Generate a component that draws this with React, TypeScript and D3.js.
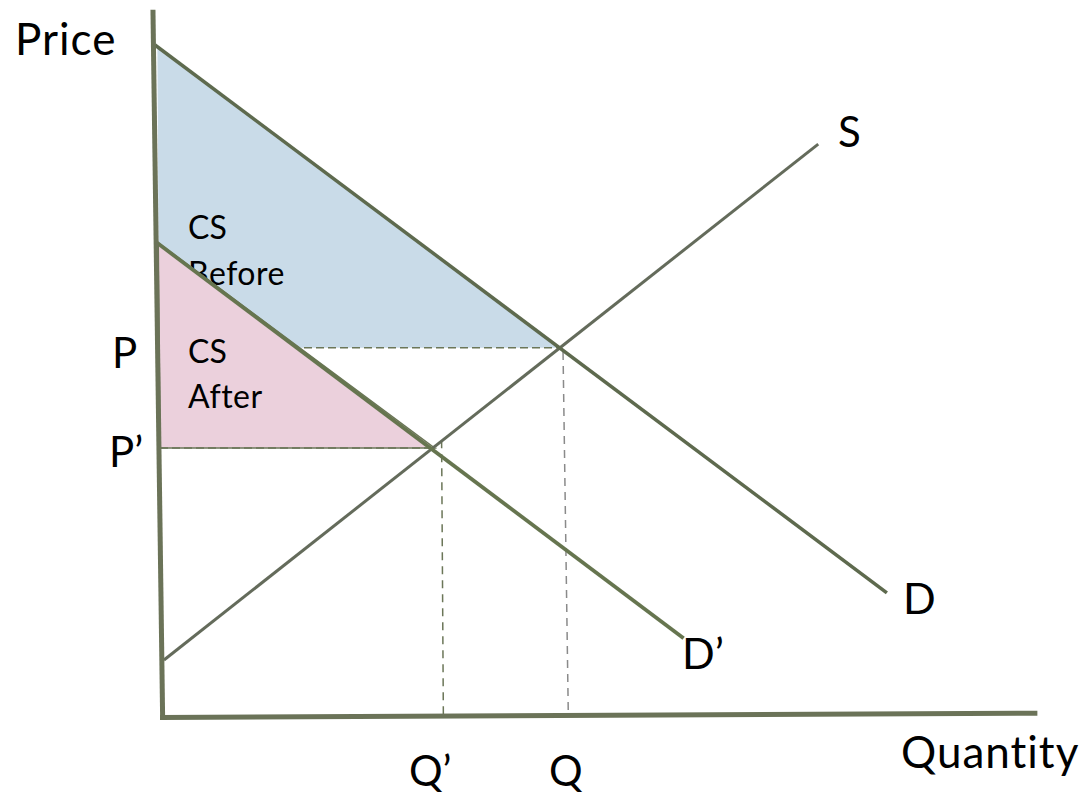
import React from "react";
import * as d3 from "d3";

// abstract units: quantity 0-100, price 0-100
const yAxisPts: [number, number][] = [[-0.8, 100.9], [0.3, -0.3]];
const xAxisPts: [number, number][] = [[0, -0.2], [99.7, 0.4]];
const demandD: [number, number][] = [[-0.57, 95.86], [82.6, 17.6]];
const demandD2: [number, number][] = [[-0.45, 67.7], [59.5, 11.1]];
const supplyS: [number, number][] = [[0.45, 8.0], [74.8, 81.7]];
const csBefore: [number, number][] = [[-0.3, 95.6], [45.45, 52.6], [-0.1, 52.6]];
const csAfter: [number, number][] = [[-0.2, 67.6], [31.2, 38.3], [0, 38.3]];
const pLine: [number, number][] = [[0, 52.6], [45.45, 52.6]];
const p2Line: [number, number][] = [[0, 38.3], [31.4, 38.3]];
const qLine: [number, number][] = [[45.8, 52], [46.4, 0]];
const q2Line: [number, number][] = [[32.0, 39.4], [32.2, 0]];

const W = 1092, H = 794;
const x = d3.scaleLinear().domain([0, 100]).range([160, 1040]);
const y = d3.scaleLinear().domain([0, 100]).range([716, 16]);
const line = d3.line<[number, number]>().x(d => x(d[0])).y(d => y(d[1]));

const FONT = "Lato, 'Open Sans', sans-serif";

export default function App() {
  const poly = (pts: [number, number][]) => line(pts)! + "Z";
  return (
    <svg width={W} height={H} style={{ position: "absolute", left: 0, top: 0 }} fontFamily={FONT}>
      <rect width={W} height={H} fill="#fff" />
      <path d={poly(csBefore)} fill="#c9dbe8" />
      <path d={line(pLine)!} stroke="#6b7658" strokeWidth={1.5} strokeDasharray="8,4" fill="none" />
      <text x={188} y={239} fontSize={32}>CS</text>
      <text x={188} y={285} fontSize={32} letterSpacing={0.5}>Before</text>
      <path d={poly(csAfter)} fill="#ebd0dc" stroke="#6b7658" strokeWidth={1.5} />
      <path d={line(p2Line)!} stroke="#6b7658" strokeWidth={1.5} strokeDasharray="8,4" fill="none" />
      <path d={line(qLine)!} stroke="#8a8a8a" strokeWidth={1.5} strokeDasharray="8,6" fill="none" />
      <path d={line(q2Line)!} stroke="#6b7658" strokeWidth={1.5} strokeDasharray="8,6" fill="none" />
      <path d={line(supplyS)!} stroke="#646b5b" strokeWidth={3} fill="none" />
      <path d={line(demandD2)!} stroke="#66754f" strokeWidth={3.8} fill="none" />
      <path d={line(demandD)!} stroke="#5e6a4e" strokeWidth={3.5} fill="none" />
      <path d={line(yAxisPts)!} stroke="#6b7358" strokeWidth={5} fill="none" />
      <path d={line(xAxisPts)!} stroke="#6b7358" strokeWidth={5} fill="none" />
      <text x={188} y={363} fontSize={32}>CS</text>
      <text x={188} y={408} fontSize={32} letterSpacing={0.5}>After</text>
      <text x={15} y={55} fontSize={44} letterSpacing={1}>Price</text>
      <text x={838} y={147} fontSize={42}>S</text>
      <text x={903} y={614} fontSize={43}>D</text>
      <text x={682} y={669} fontSize={43}>D’</text>
      <text x={112} y={368} fontSize={42}>P</text>
      <text x={109} y={467} fontSize={42}>P’</text>
      <text x={409} y={786} fontSize={42}>Q’</text>
      <text x={549} y={786} fontSize={42}>Q</text>
      <text x={901} y={768} fontSize={44} letterSpacing={1}>Quantity</text>
    </svg>
  );
}
